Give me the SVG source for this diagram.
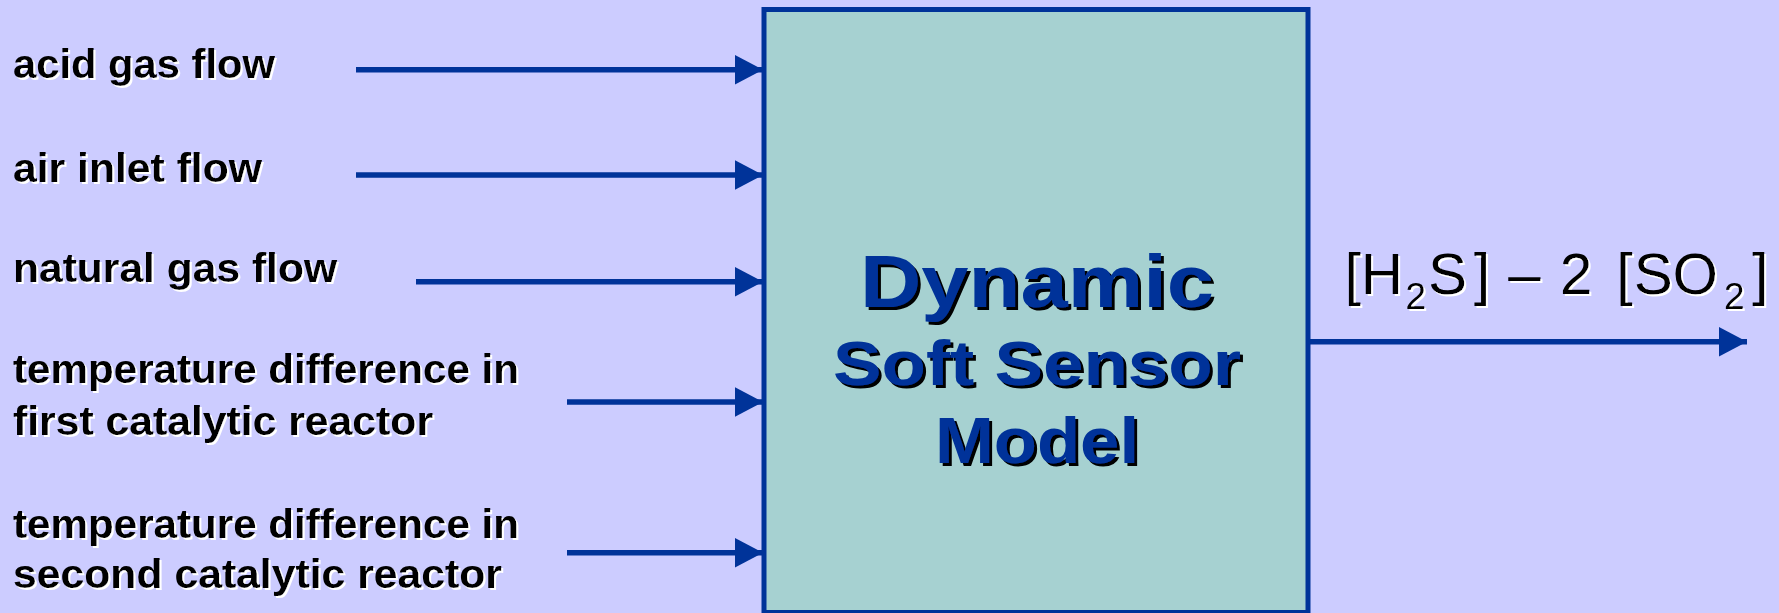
<svg xmlns="http://www.w3.org/2000/svg" width="1779" height="613" viewBox="0 0 1779 613">
  <defs>
    <marker id="arrow" markerUnits="userSpaceOnUse" markerWidth="29" markerHeight="30" refX="28" refY="14.7" orient="auto">
      <path d="M0,0 L28,14.7 L0,29.4 Z" fill="#003399"/>
    </marker>
    <filter id="whiteShadow" x="-5%" y="-20%" width="110%" height="140%">
      <feDropShadow dx="2" dy="2" stdDeviation="0.3" flood-color="#FFFFFF" flood-opacity="1"/>
    </filter>
    <filter id="blackShadow" x="-5%" y="-20%" width="110%" height="140%">
      <feDropShadow dx="3" dy="3" stdDeviation="0.3" flood-color="#000000" flood-opacity="1"/>
    </filter>
  </defs>
  <style>
    .label { font-family: "Liberation Sans", Arial, sans-serif; font-weight: bold; font-size: 40px; fill: #000000; }
    .title { font-family: "Liberation Sans", Arial, sans-serif; font-weight: bold; fill: #003399; text-anchor: middle; }
    .out { font-family: "Liberation Sans", Arial, sans-serif; font-size: 58px; fill: #000000; }
    .sub { font-size: 37px; }
    .conn { stroke: #003399; stroke-width: 5.5; fill: none; marker-end: url(#arrow); }
  </style>
  <rect x="0" y="0" width="1779" height="613" fill="#CCCCFF"/>

  <g id="model">
    <rect x="764" y="9.5" width="544" height="603" fill="#A6D1D1" stroke="#003399" stroke-width="5"/>
    <g filter="url(#blackShadow)">
      <text class="title" x="1037" y="306.7" font-size="75" textLength="354" lengthAdjust="spacingAndGlyphs">Dynamic</text>
      <text class="title" x="1037" y="385" font-size="63" textLength="408" lengthAdjust="spacingAndGlyphs">Soft Sensor</text>
      <text class="title" x="1037" y="462.5" font-size="64" textLength="204" lengthAdjust="spacingAndGlyphs">Model</text>
    </g>
  </g>

  <g id="in-acid" filter="url(#whiteShadow)">
    <text class="label" x="13" y="78" textLength="262" lengthAdjust="spacingAndGlyphs">acid gas flow</text>
  </g>
  <g id="in-air" filter="url(#whiteShadow)">
    <text class="label" x="13" y="182" textLength="249" lengthAdjust="spacingAndGlyphs">air inlet flow</text>
  </g>
  <g id="in-natgas" filter="url(#whiteShadow)">
    <text class="label" x="13" y="282" textLength="324" lengthAdjust="spacingAndGlyphs">natural gas flow</text>
  </g>
  <g id="in-temp1" filter="url(#whiteShadow)">
    <text class="label" x="13" y="383" textLength="506" lengthAdjust="spacingAndGlyphs">temperature difference in</text>
    <text class="label" x="13" y="435" textLength="420" lengthAdjust="spacingAndGlyphs">first catalytic reactor</text>
  </g>
  <g id="in-temp2" filter="url(#whiteShadow)">
    <text class="label" x="13" y="538" textLength="506" lengthAdjust="spacingAndGlyphs">temperature difference in</text>
    <text class="label" x="13" y="588" textLength="489" lengthAdjust="spacingAndGlyphs">second catalytic reactor</text>
  </g>

  <g id="output" filter="url(#whiteShadow)">
    <text class="out" y="293.5"><tspan x="1344.7">[</tspan><tspan x="1361.1">H</tspan><tspan class="sub" x="1405.6" dy="15">2</tspan><tspan x="1428.3" dy="-15">S</tspan><tspan x="1474">]</tspan><tspan x="1508.3">–</tspan><tspan x="1560">2</tspan><tspan x="1616.4">[</tspan><tspan x="1634">SO</tspan><tspan class="sub" x="1724" dy="15">2</tspan><tspan x="1752.3" dy="-15">]</tspan></text>
  </g>

  <g id="connectors">
    <line class="conn" x1="356" y1="69.7" x2="763" y2="69.7"/>
    <line class="conn" x1="356" y1="175" x2="763" y2="175"/>
    <line class="conn" x1="416" y1="281.7" x2="763" y2="281.7"/>
    <line class="conn" x1="567" y1="402" x2="763" y2="402"/>
    <line class="conn" x1="567" y1="552.7" x2="763" y2="552.7"/>
    <line class="conn" x1="1308" y1="341.7" x2="1747" y2="341.7"/>
  </g>
</svg>
